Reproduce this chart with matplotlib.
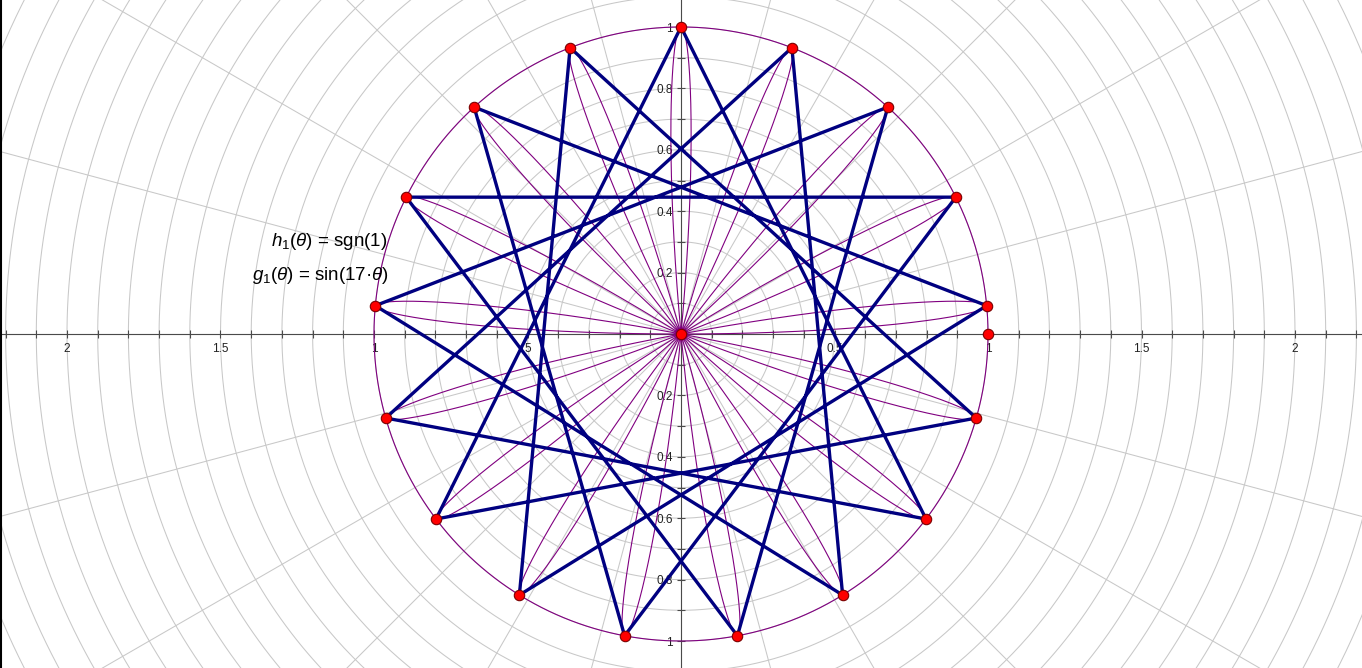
import numpy as np
import matplotlib
matplotlib.use('Agg')
import matplotlib.pyplot as plt
from matplotlib.ticker import MultipleLocator, FuncFormatter
from matplotlib.lines import Line2D

# ==== data ====
n_petals = 17            # g1(theta) = sin(17*theta)
circle_radius = 1.0      # h1(theta) = sgn(1)
star_step = 6            # star polygon {17/6} through the petal tips
extra_point_angle = 0.0  # point on the circle at theta = 0
grid_radii = np.arange(0.1, 2.55, 0.1)
grid_angles_deg = np.arange(0, 360, 15)
x_tick_labels = {-2.0: '2', -1.5: '1.5', -1.0: '1', -0.5: '5',
                 0.5: '0.5', 1.0: '1', 1.5: '1.5', 2.0: '2'}
y_tick_labels = {-1.0: '1', -0.8: '0.8', -0.6: '0.6', -0.4: '0.4', -0.2: '0.2',
                 0.2: '0.2', 0.4: '0.4', 0.6: '0.6', 0.8: '0.8', 1.0: '1'}
label_h = r'$h_1(\theta)$ = sgn(1)'
label_g = r'$g_1(\theta)$ = sin(17·$\theta$)'

plt.rcParams['font.family'] = ['Liberation Sans', 'DejaVu Sans']
plt.rcParams['mathtext.fontset'] = 'custom'
plt.rcParams['mathtext.rm'] = 'Liberation Sans'
plt.rcParams['mathtext.it'] = 'Liberation Sans:italic'

purple = '#800080'
navy = '#000080'
scale = 307.0  # pixels per unit

fig = plt.figure(figsize=(13.62, 6.68), dpi=100)
ax = fig.add_axes([0, 0, 1, 1])
ax.set_xlim(-681 / scale, 681 / scale)
ax.set_ylim(-334 / scale, 334 / scale)

# ==== polar grid ====
t = np.linspace(0, 2 * np.pi, 721)
for r in grid_radii:
    ax.plot(r * np.cos(t), r * np.sin(t), color='#c8c8c8', lw=0.75, zorder=1)
for a in np.radians(grid_angles_deg):
    ax.plot([0, 3 * np.cos(a)], [0, 3 * np.sin(a)], color='#c8c8c8', lw=0.75, zorder=1)

# ==== axes through origin ====
for side in ['top', 'right']:
    ax.spines[side].set_visible(False)
ax.spines['left'].set_position('zero')
ax.spines['bottom'].set_position('zero')
for side in ['left', 'bottom']:
    ax.spines[side].set_color('#4a4a4a')
    ax.spines[side].set_linewidth(0.8)
    ax.spines[side].set_zorder(2)
ax.xaxis.set_major_locator(MultipleLocator(0.1))
ax.yaxis.set_major_locator(MultipleLocator(0.1))
ax.xaxis.set_major_formatter(FuncFormatter(lambda v, p: x_tick_labels.get(round(v, 1), '')))
ax.yaxis.set_major_formatter(FuncFormatter(lambda v, p: y_tick_labels.get(round(v, 1), '')))
ax.tick_params(axis='both', direction='inout', length=6, width=0.8, color='#4a4a4a',
               labelsize=8.5, labelcolor='#222222')
ax.tick_params(axis='x', pad=3.5)
ax.tick_params(axis='y', pad=3)

# ==== curves ====
th = np.linspace(0, np.pi, 20001)
r_rose = np.sin(n_petals * th)
ax.plot(r_rose * np.cos(th), r_rose * np.sin(th), color=purple, lw=0.8, zorder=3)
ax.plot(circle_radius * np.cos(t), circle_radius * np.sin(t), color=purple, lw=0.8, zorder=3)

# petal tips of the rose
k = np.arange(n_petals)
tip_angles = np.pi / (2 * n_petals) + 2 * np.pi * k / n_petals
tx = circle_radius * np.cos(tip_angles)
ty = circle_radius * np.sin(tip_angles)

# star polygon
order = [(i * star_step) % n_petals for i in range(n_petals + 1)]
ax.plot(tx[order], ty[order], color=navy, lw=2.4, solid_joinstyle='round', zorder=4)

# points
px = np.concatenate([tx, [circle_radius * np.cos(extra_point_angle), 0]])
py = np.concatenate([ty, [circle_radius * np.sin(extra_point_angle), 0]])
ax.plot(px, py, 'o', color='#ff0000', mec='#7a0000', mew=0.8, ms=7.5, zorder=5,
        clip_on=False)

# ==== formula labels ====
ax.text((387 - 681) / scale, (334 - 242) / scale, label_h, ha='right', va='center',
        fontsize=13.5, color='black', zorder=6)
ax.text((389 - 681) / scale, (334 - 275) / scale, label_g, ha='right', va='center',
        fontsize=13.5, color='black', zorder=6)

# left border of the view
fig.add_artist(Line2D([0.0008, 0.0008], [0, 1], transform=fig.transFigure,
                      color='black', lw=1.5))

fig.savefig('out.png', dpi=100)
